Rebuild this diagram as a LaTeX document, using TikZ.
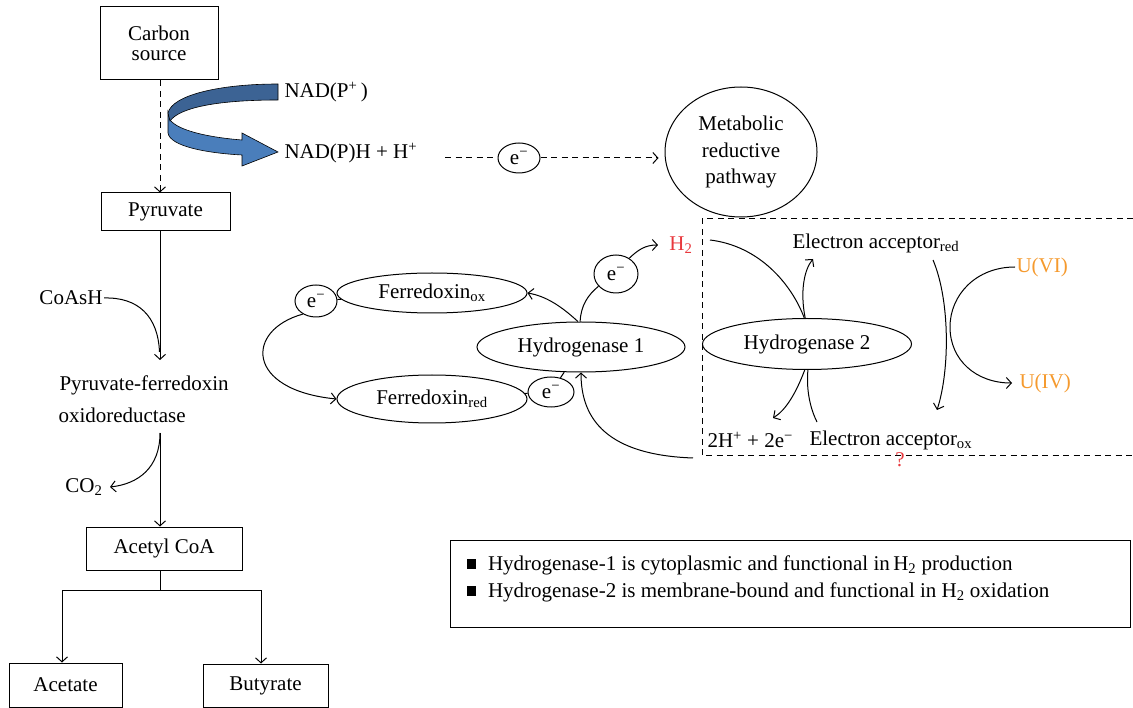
\documentclass[tikz,border=0pt]{standalone}
\usepackage{fontspec}
\setmainfont{Liberation Serif}
\usetikzlibrary{arrows.meta,shapes.geometric}
\definecolor{bluedark}{RGB}{60,99,148}
\definecolor{bluelight}{RGB}{74,126,187}
\definecolor{hred}{RGB}{232,56,61}
\definecolor{uorange}{RGB}{245,154,46}
\begin{document}
\begin{tikzpicture}[x=1pt,y=-1pt,
  font=\fontsize{21}{25}\selectfont,
  line width=1pt,
  arr/.style={-{Straight Barb[length=5pt,width=11pt,line width=1pt]}},
  dsh/.style={dash pattern=on 6pt off 4.5pt},
  box/.style={draw, rectangle, inner sep=0pt},
  ell/.style={draw, ellipse, inner sep=0pt},
  lbl/.style={inner sep=1pt}]
\useasboundingbox (0,0) rectangle (1133,708);

% ---------- left column ----------
\node[box, minimum width=118, minimum height=73, align=center,
      font=\fontsize{21}{20}\selectfont] (cs) at (159,43.5) {Carbon\\source};
\node[box, minimum width=129, minimum height=38] (pyr) at (165.5,212) {Pyruvate};
\node[lbl] (coash) at (71,298) {CoAsH};
\node[lbl, anchor=west] (pfo1) at (58,385) {Pyruvate-ferredoxin};
\node[lbl, anchor=west] (pfo2) at (57,415) {oxidoreductase};
\node[lbl] (co2) at (84,487) {CO\textsubscript{2}};
\node[box, minimum width=156, minimum height=43] (acoa) at (164,548.5) {Acetyl CoA};
\node[box, minimum width=113, minimum height=44] (acet) at (65.5,685) {Acetate};
\node[box, minimum width=125, minimum height=43] (buty) at (265.5,685.5) {Butyrate};

\coordinate (pfoTop) at (160,360);
\coordinate (pfoBot) at (160,433);
\coordinate (co2tip) at (110,487);
\coordinate (br) at (160,590);
\coordinate (brL) at (62,590);
\coordinate (brR) at (261,590);

\draw[dsh, arr] (cs.south -| 160,0) -- (pyr.north -| 160,0);
\draw[arr] (pyr.south -| pfoTop) -- (pfoTop);
\draw (coash.east) .. controls (138,297) and (158,316) .. (159.5,352);
\draw[arr] (pfoBot) -- (acoa.north -| pfoBot);
\draw[arr] (pfoBot) .. controls (160,468) and (138,484) .. (co2tip);
\draw (acoa.south -| br) -- (br);
\draw (brL) -- (brR);
\draw[arr] (brL) -- (acet.north -| brL);
\draw[arr] (brR) -- (buty.north -| brR);

% ---------- blue ribbon arrow ----------
\filldraw[fill=bluelight, draw=black, line width=0.6pt]
  (168,112) -- (168,133) .. controls (170,146) and (205,153) .. (242,155)
  -- (242,166) -- (278,152) -- (242,133) -- (242,140)
  .. controls (205,137) and (178,130) .. (170,120) -- cycle;
\filldraw[fill=bluedark, draw=black, line width=0.6pt]
  (278,84) -- (278,100) .. controls (220,100) and (180,107) .. (170,121)
  -- (168,113) .. controls (172,95) and (220,84) .. (278,84) -- cycle;

\node[lbl, anchor=west] (nadp) at (283,92) {NAD(P\textsuperscript{+}\,)};
\node[lbl, anchor=west] (nadph) at (283,153) {NAD(P)H + H\textsuperscript{+}};

% ---------- metabolic ----------
\node[ell, minimum width=42, minimum height=30] (e1) at (519,158) {e\textsuperscript{−}};
\node[ell, minimum width=152, minimum height=130, align=center,
      font=\fontsize{21}{26.5}\selectfont] (met) at (741,152) {Metabolic\\reductive\\pathway};
\coordinate (ds) at (445,158);
\draw[dsh] (ds) -- (e1.west);
\draw[dsh, arr] (e1.east) -- ([xshift=-6pt]met.west |- e1.east);

% ---------- ferredoxin / hydrogenase 1 ----------
\node[ell, minimum width=190, minimum height=40] (fox) at (432,293) {Ferredoxin\textsubscript{ox}};
\node[ell, minimum width=190, minimum height=48] (fred) at (432,399) {Ferredoxin\textsubscript{red}};
\node[ell, minimum width=208, minimum height=50] (hyd1) at (581,347) {Hydrogenase 1};
\node[ell, minimum width=42, minimum height=32] (eL) at (316,301) {e\textsuperscript{−}};
\node[ell, minimum width=46, minimum height=30] (eB) at (551,392) {e\textsuperscript{−}};
\node[ell, minimum width=44, minimum height=38] (eT) at (616,274) {e\textsuperscript{−}};
\node[lbl, text=hred] (H2) at (681,245) {H\textsubscript{2}};

\draw (eL) -- (fox);
\draw[arr] (eL.225) .. controls (245,330) and (245,390) .. (fred.west);
\draw[arr] (hyd1.97) .. controls (560,305) and (545,296) .. (fox.east);
\draw (hyd1.92) .. controls (581,305) and (588,295) .. (eT.215);
\draw[arr] (eT.50) .. controls (638,250) and (645,245) .. ([xshift=-10pt]H2.west);
\draw (fred) -- (eB);
\draw (eB) -- (hyd1);
\coordinate (bc) at (693,458);
\draw[arr] (bc) .. controls (608,455) and (581,420) .. (hyd1.south);

% ---------- membrane box ----------
\draw[dsh] (1133,219) -- (702,219) -- (702,456) -- (1133,456);
\node[ell, minimum width=209, minimum height=51] (hyd2) at (807,344) {Hydrogenase 2};
\node[lbl, anchor=west] (ear) at (791,243) {Electron acceptor\textsubscript{red}};
\node[lbl, anchor=west] (eao) at (808,440) {Electron acceptor\textsubscript{ox}};
\node[lbl, anchor=west] (hh) at (706,440) {2H\textsuperscript{+} + 2e\textsuperscript{−}};
\node[lbl, text=uorange, anchor=west] (uvi) at (1015,267) {U(VI)};
\node[lbl, text=uorange, anchor=west] (uiv) at (1018,383) {U(IV)};
\node[lbl, text=hred] (q) at (900,460) {?};

\coordinate (eartip) at (813,259);
\coordinate (ears) at (933,260);
\coordinate (eaot) at (937,410);
\coordinate (hhtip) at (773,418);
\coordinate (eaos) at (817,422);

\path (H2.east) ++(16,-5) coordinate (h2s);
\draw (h2s) .. controls (760,246) and (792,285) .. (hyd2.96);
\draw[arr] (hyd2.94) .. controls (800,292) and (804,270) .. (eartip);
\draw[arr] (ears) .. controls (950,300) and (950,370) .. (eaot);
\draw[arr] (uvi.west) .. controls (976,267) and (950,295) .. (950,327)
  .. controls (950,360) and (976,383) .. ([xshift=-6pt]uiv.west);
\draw[arr] (hyd2.265) .. controls (796,393) and (786,410) .. (hhtip);
\draw (hyd2.272) .. controls (806,392) and (811,410) .. (eaos);

% ---------- legend ----------
\node[draw, minimum width=680, minimum height=87, anchor=north west, inner sep=0pt] (leg) at (450,540) {};
\node[lbl, anchor=west] (l1) at (465,565) {\raisebox{1.5pt}{\rule{9.5pt}{9.5pt}}\hspace{12pt}Hydrogenase-1 is cytoplasmic and functional in\,H\textsubscript{2} production};
\node[lbl, anchor=west] (l2) at (465,592) {\raisebox{1.5pt}{\rule{9.5pt}{9.5pt}}\hspace{12pt}Hydrogenase-2 is membrane-bound and functional in H\textsubscript{2} oxidation};
\end{tikzpicture}
\end{document}
